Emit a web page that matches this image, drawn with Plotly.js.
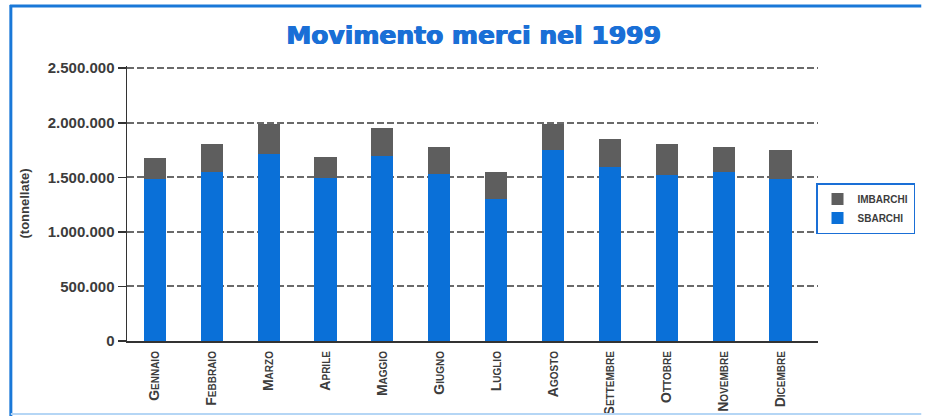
<!DOCTYPE html>
<html>
<head>
<meta charset="utf-8">
<script src="https://cdn.plot.ly/plotly-3.0.1.min.js"></script>
<style>html,body{margin:0;padding:0;background:#fff;overflow:hidden;}#chart{width:927px;height:416px;}</style>
</head>
<body>
<div id="chart"></div>
<script>
const months = ["Gennaio","Febbraio","Marzo","Aprile","Maggio","Giugno","Luglio","Agosto","Settembre","Ottobre","Novembre","Dicembre"];
const sbarchi = [1480000,1550000,1716000,1495000,1694000,1526000,1305000,1749000,1596000,1519000,1550000,1489000];
const imbarchi = [199000,258000,269000,190000,254000,254000,242000,243000,258000,289000,227000,257000];
const yTicks = [0,500000,1000000,1500000,2000000,2500000];

const textColor = "#3c3c3c";
const titleBlue = "#1a6fd6";
const data = [
  {type:"bar", name:"SBARCHI", x:months, y:sbarchi, marker:{color:"#0a70d8"}},
  {type:"bar", name:"IMBARCHI", x:months, y:imbarchi, marker:{color:"#5e5e5e"}}
];
const T = 66, B = 75, L = 127, R = 104;
const pw = 927-L-R, ph = 416-T-B;
const px = v => (v-L)/pw;
const py = v => (416-B-v)/ph;
const layout = {
  width:927, height:416,
  margin:{l:L, r:R, t:T, b:B},
  paper_bgcolor:"#ffffff", plot_bgcolor:"#ffffff",
  separators:",.",
  barmode:"stack", bargap:0.61,
  title:{text:"Movimento merci nel 1999", x:0.511, xanchor:"center", y:0.915, yanchor:"middle",
    font:{family:"DejaVu Sans", size:25, weight:900, color:titleBlue,
      shadow:"0.6px 0 0 " + titleBlue + ", -0.6px 0 0 " + titleBlue}},
  xaxis:{range:[-0.49,11.66], showline:true, linecolor:"#333", linewidth:1.5, ticks:"", tickangle:-90,
    ticklabelstandoff:3,
    tickfont:{family:"Liberation Sans", size:14, weight:700, color:textColor, variant:"small-caps"},
    showgrid:false, fixedrange:true},
  yaxis:{range:[0,2520000], tickvals:yTicks, tickformat:",d", showline:true, linecolor:"#333", linewidth:1.5,
    ticks:"outside", ticklen:8, tickcolor:"#333", tickwidth:1.5,
    tickfont:{family:"Liberation Sans", size:15, weight:700, color:textColor},
    showgrid:true, gridcolor:"#6a6a6a", griddash:"7px,3px", gridwidth:2, zeroline:false,
    title:{text:"(tonnellate)", standoff:15, font:{family:"Liberation Sans", size:13, weight:700, color:textColor}}},
  legend:{x:px(821), xanchor:"left", y:py(183), yanchor:"top", bordercolor:titleBlue, borderwidth:1.5,
    font:{family:"Liberation Sans", size:10, weight:700, color:textColor}, traceorder:"reversed",
    itemwidth:30, tracegroupgap:0},
  shapes:[
    {type:"line", xref:"paper", yref:"paper", x0:px(9), x1:px(927), y0:py(6), y1:py(6), line:{color:"#1a78d8", width:3}},
    {type:"line", xref:"paper", yref:"paper", x0:px(10), x1:px(10), y0:py(5), y1:py(416), line:{color:"#1a78d8", width:3}},
    {type:"line", xref:"paper", yref:"paper", x0:px(10), x1:px(927), y0:py(414), y1:py(414), line:{color:"#b5d6f5", width:2}}
  ],
  showlegend:true
};
Plotly.newPlot("chart", data, layout, {staticPlot:true});
</script>
</body>
</html>
